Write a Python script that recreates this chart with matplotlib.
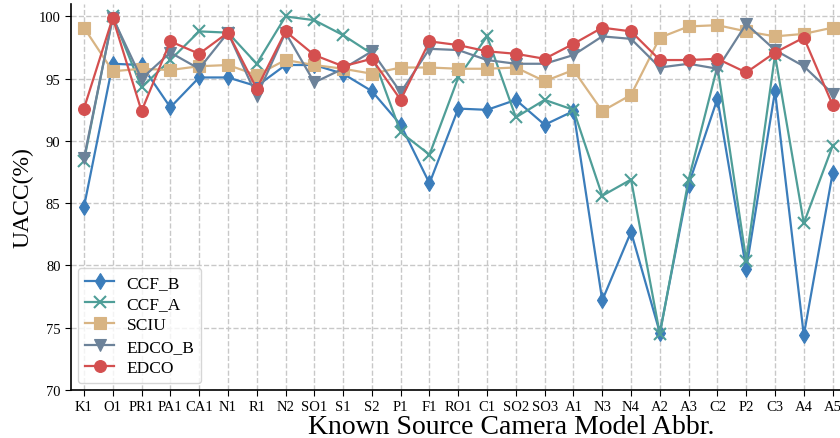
import matplotlib
matplotlib.use("Agg")
import matplotlib.pyplot as plt

plt.rcParams['font.family'] = ['Liberation Serif', 'DejaVu Serif']

# abbreviations of known source camera models
cams = ['K1', 'O1', 'PR1', 'PA1', 'CA1', 'N1', 'R1', 'N2', 'SO1', 'S1', 'S2',
        'P1', 'F1', 'RO1', 'C1', 'SO2', 'SO3', 'A1', 'N3', 'N4', 'A2', 'A3',
        'C2', 'P2', 'C3', 'A4', 'A5']

ccf_b = [84.7, 96.2, 96.1, 92.7, 95.1, 95.1, 94.4, 96.1, 96.1, 95.4, 94.0,
         91.3, 86.6, 92.6, 92.5, 93.3, 91.3, 92.4, 77.2, 82.7, 74.6, 86.5,
         93.4, 79.7, 94.0, 74.4, 87.4]
ccf_a = [88.4, 100.0, 94.3, 96.5, 98.8, 98.7, 96.2, 100.0, 99.7, 98.5, 97.0,
         90.7, 88.9, 95.1, 98.4, 91.9, 93.3, 92.5, 85.6, 86.9, 74.5, 86.9,
         96.0, 80.4, 96.9, 83.4, 89.6]
sciu = [99.1, 95.6, 95.8, 95.7, 96.0, 96.1, 95.3, 96.5, 96.1, 95.8, 95.4,
        95.9, 95.9, 95.8, 95.8, 95.9, 94.8, 95.7, 92.4, 93.7, 98.3, 99.2,
        99.3, 98.8, 98.4, 98.6, 99.1]
edco_b = [88.6, 99.9, 95.0, 97.1, 95.8, 98.7, 93.6, 98.7, 94.7, 95.8, 97.2,
          93.9, 97.4, 97.3, 96.5, 96.2, 96.2, 96.9, 98.4, 98.2, 95.9, 96.2,
          95.8, 99.4, 97.3, 96.0, 93.8]
edco = [92.6, 99.9, 92.4, 98.0, 97.0, 98.7, 94.2, 98.8, 96.9, 96.0, 96.6,
        93.3, 98.0, 97.7, 97.2, 97.0, 96.6, 97.8, 99.1, 98.8, 96.5, 96.5,
        96.6, 95.5, 97.1, 98.3, 92.9]

series = [
    ('CCF_B', ccf_b, '#3b7dbb', 'd'),
    ('CCF_A', ccf_a, '#4f9e98', 'x'),
    ('SCIU', sciu, '#d8b483', 's'),
    ('EDCO_B', edco_b, '#6c8299', 'v'),
    ('EDCO', edco, '#d44f4f', 'o'),
]

fig = plt.figure(figsize=(8.4, 4.39), dpi=100)
ax = fig.add_axes([71 / 840, 48 / 439, 776 / 840, 386 / 439])

x = range(len(cams))
for name, vals, color, mk in series:
    ax.plot(x, vals, color=color, marker=mk, markersize=8.5, linewidth=1.6,
            markeredgewidth=1.5 if mk == 'x' else 0.8, label=name)

ax.set_xlim(-0.45, 26.5)
ax.set_ylim(70, 101)
ax.set_yticks([70, 75, 80, 85, 90, 95, 100])
ax.set_xticks(list(x))
ax.set_xticklabels(cams)
ax.tick_params(labelsize=10.5, direction='out', length=4)
ax.grid(True, linestyle='--', color='#c8c8c8', linewidth=1)
ax.set_axisbelow(True)
for s in ['top', 'right']:
    ax.spines[s].set_visible(False)
ax.spines['left'].set_linewidth(1.2)
ax.spines['bottom'].set_linewidth(1.2)

ax.set_xlabel('Known Source Camera Model Abbr.', fontsize=20)
# the original figure is cropped on the right, so the label sits off-centre
ax.xaxis.set_label_coords(440 / 776, -24 / 386)
ax.set_ylabel('UACC(%)', fontsize=17, labelpad=4)
ax.legend(loc='lower left', fontsize=12.5, frameon=True, edgecolor='#cccccc',
          handlelength=1.7, handletextpad=0.7, borderaxespad=0.4,
          labelspacing=0.3)

fig.savefig('out.png', dpi=100)
